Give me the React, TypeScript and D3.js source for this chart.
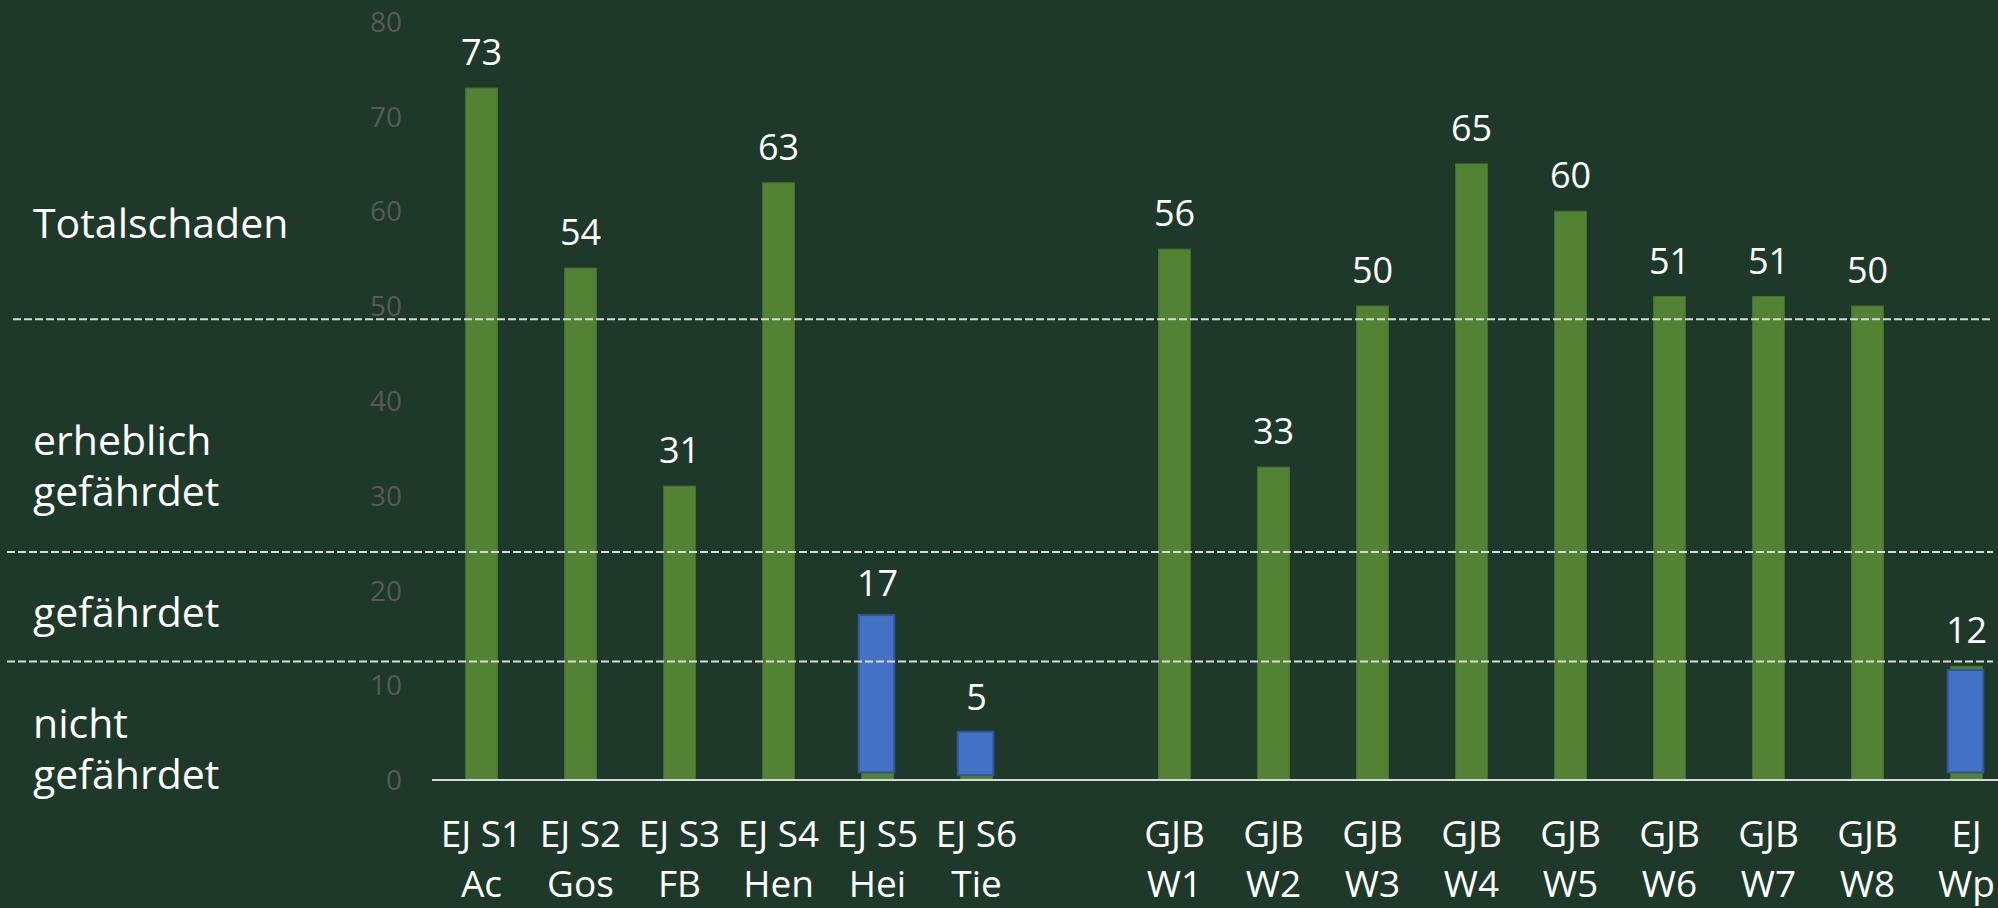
import React from "react";
import * as d3 from "d3";

const categories: string[] = [
  "EJ S1 Ac", "EJ S2 Gos", "EJ S3 FB", "EJ S4 Hen", "EJ S5 Hei", "EJ S6 Tie", "",
  "GJB W1", "GJB W2", "GJB W3", "GJB W4", "GJB W5", "GJB W6", "GJB W7", "GJB W8", "EJ Wp",
];
const values: (number | null)[] = [73, 54, 31, 63, 17, 5, null, 56, 33, 50, 65, 60, 51, 51, 50, 12];
const yTicks: number[] = [0, 10, 20, 30, 40, 50, 60, 70, 80];

// blue highlight boxes drawn over some bars (in data units)
const highlightCats: string[] = ["EJ S5 Hei", "EJ S6 Tie", "EJ Wp"];
const highlightLo: number[] = [0.8, 0.5, 0.8];
const highlightHi: number[] = [17.4, 5.1, 11.6];

// class thresholds (dashed lines) and class names
const thresholds: number[] = [48.6, 24.05, 12.5];
const classLabels: string[][] = [
  ["Totalschaden"],
  ["erheblich", "gefährdet"],
  ["gefährdet"],
  ["nicht", "gefährdet"],
];
const classBaselines: number[] = [238, 455, 627, 738];

const W = 1998;
const H = 908;
const BG = "#1e3829";
const GREEN = "#548235";
const FONT = "'Open Sans', sans-serif";

export default function App() {
  const x = d3
    .scaleBand<string>()
    .domain(categories.map((c, i) => c || `gap${i}`))
    .range([432, 2016])
    .paddingInner(0.68)
    .paddingOuter(0.34);
  const y = d3.scaleLinear().domain([0, 80]).range([780, 21.7]);
  const key = (c: string, i: number) => c || `gap${i}`;
  const bw = x.bandwidth();

  const splitLabel = (c: string): [string, string] => {
    const k = c.lastIndexOf(" ");
    return k < 0 ? [c, ""] : [c.slice(0, k), c.slice(k + 1)];
  };

  return (
    <svg
      width={W}
      height={H}
      style={{ position: "absolute", left: 0, top: 0, display: "block" }}
      fontFamily={FONT}
    >
      <rect x={0} y={0} width={W} height={H} fill={BG} />

      {/* y tick labels */}
      {yTicks.map((t) => (
        <text
          key={t}
          x={402}
          y={y(t)}
          dy="0.36em"
          textAnchor="end"
          fontSize={28}
          fill="#595959"
        >
          {t}
        </text>
      ))}

      {/* bars */}
      {categories.map((c, i) =>
        values[i] == null ? null : (
          <rect
            key={key(c, i)}
            x={x(key(c, i))!}
            y={y(values[i]!)}
            width={bw}
            height={y(0) - y(values[i]!)}
            fill={GREEN}
            stroke="#4a7330"
            strokeWidth={1}
          />
        )
      )}

      {/* blue highlight boxes */}
      {highlightCats.map((c, i) => {
        const idx = categories.indexOf(c);
        const cx = x(key(c, idx))! + bw / 2 - 1;
        const w = bw + 4;
        return (
          <rect
            key={`hl${i}`}
            x={cx - w / 2}
            y={y(highlightHi[i])}
            width={w}
            height={y(highlightLo[i]) - y(highlightHi[i])}
            fill="#4472c4"
            stroke="#2f5597"
            strokeWidth={2}
          />
        );
      })}

      {/* x axis line */}
      <line x1={432} x2={W} y1={y(0)} y2={y(0)} stroke="#d9d9d9" strokeWidth={2} />

      {/* value labels */}
      {categories.map((c, i) =>
        values[i] == null ? null : (
          <text
            key={`v${key(c, i)}`}
            x={x(key(c, i))! + bw / 2}
            y={y(values[i]!) - 23}
            textAnchor="middle"
            fontSize={36}
            fill="#ffffff"
          >
            {values[i]}
          </text>
        )
      )}

      {/* category labels */}
      {categories.map((c, i) => {
        if (!c) return null;
        const [l1, l2] = splitLabel(c);
        const cx = x(key(c, i))! + bw / 2;
        return (
          <text key={`c${i}`} x={cx} textAnchor="middle" fontSize={37} fill="#ffffff">
            <tspan x={cx} y={847}>{l1}</tspan>
            <tspan x={cx} y={897}>{l2}</tspan>
          </text>
        );
      })}

      {/* dashed threshold lines */}
      {thresholds.map((t, i) => (
        <line
          key={`th${i}`}
          x1={i === 0 ? 13 : 7}
          x2={1993}
          y1={y(t)}
          y2={y(t)}
          stroke="#d9d9d9"
          strokeWidth={2}
          strokeDasharray="8 3"
        />
      ))}

      {/* class labels */}
      {classLabels.map((lines, i) => (
        <text key={`cl${i}`} x={33} fontSize={41} fill="#ffffff">
          {lines.map((ln, j) => (
            <tspan key={j} x={33} y={classBaselines[i] + j * 51}>
              {ln}
            </tspan>
          ))}
        </text>
      ))}
    </svg>
  );
}
